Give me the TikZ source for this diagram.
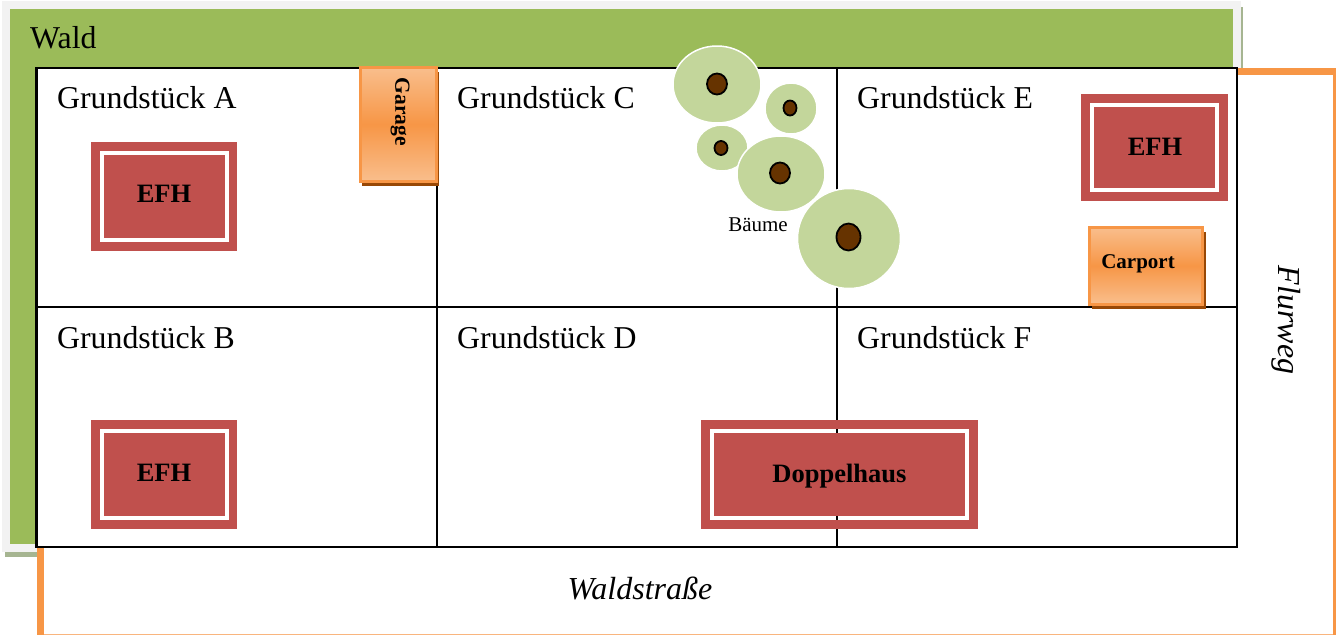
\documentclass[tikz,border=0pt]{standalone}
\usepackage{fontspec}
\usetikzlibrary{shapes.geometric}
\setmainfont{Liberation Serif}
\definecolor{waldgreen}{HTML}{9BBB59}
\definecolor{waldrim}{HTML}{F2F2F2}
\definecolor{waldshadow}{HTML}{A6B591}
\definecolor{wegorange}{HTML}{F79646}
\definecolor{houseRed}{HTML}{C0504D}
\definecolor{treeGreen}{HTML}{C3D69B}
\definecolor{trunkBrown}{HTML}{663300}
\definecolor{garLight}{HTML}{F9BE8C}
\definecolor{garShadow}{HTML}{984806}
\newcommand{\fsz}[1]{\fontsize{#1}{#1}\selectfont}
\tikzset{
  x=1pt,y=-1pt,
  label/.style={inner sep=0pt,font=\fsz{31.8},text=black,anchor=base west},
  street/.style={inner sep=0pt,font=\fsz{32}\itshape,text=black},
  tag/.style={inner sep=0pt,font=\fsz{26.5}\bfseries,text=black,anchor=base},
  parcel/.style={draw=black,line width=2.2pt},
  garbox/.style={draw=wegorange,line width=3pt,top color=garLight,bottom color=garLight,middle color=wegorange},
  housefill/.style={fill=houseRed},
  houseline/.style={draw=white,line width=4pt},
  crown/.style={fill=treeGreen,draw=white,line width=1.5pt},
  trunk/.style={fill=trunkBrown,draw=black,line width=1.8pt},
}
% name, x0,y0,x1,y1 (outer), x0,y0,x1,y1 (white frame)
\newcommand{\housebox}[9]{%
  \path[housefill] (#2,#3) rectangle (#4,#5);
  \draw[houseline] (#6,#7) rectangle (#8,#9);
}
% name, crown x,y,w,h, trunk x,y,w,h
\newcommand{\baum}[9]{%
  \node[crown,ellipse,inner sep=0pt,minimum width=#4pt,minimum height=#5pt] (#1) at (#2,#3) {};
  \node[trunk,ellipse,inner sep=0pt,minimum width=#8pt,minimum height=#9pt] (#1s) at (#6,#7) {};
}
\begin{document}
\begin{tikzpicture}
\useasboundingbox (0,0) rectangle (1336,635);
\path[fill=white] (0,0) rectangle (1336,635);
% Wald
\path[fill=waldshadow] (1241,7) rectangle (1243,68);
\path[fill=waldshadow] (5,552) rectangle (37,557);
\path[fill=waldrim] (2,1) rectangle (1241,552);
\path[fill=waldgreen] (10,9) rectangle (1233,544);
% roads
\path[fill=white] (37,547) rectangle (1336,635);
\path[fill=white] (1237,68) rectangle (1336,635);
\path[fill=wegorange] (37,546) rectangle (44,635);
\path[fill=wegorange!70!white] (44,633.5) rectangle (1336,635);
\path[fill=wegorange] (1237,68) rectangle (1336,75);
\path[fill=wegorange] (1333,68) rectangle (1336,635);
% parcels
\path[fill=white] (37,68) rectangle (1237,547);
\draw[parcel] (36.5,68) rectangle (1237,547);
\draw[parcel] (437,68) -- (437,547);
\draw[parcel] (837,68) -- (837,547);
\draw[parcel] (36.5,307) -- (1237,307);
\node[label] (lw) at (30,48) {Wald};
\node[label] (la) at (57,108) {Grundstück A};
\node[label] (lc) at (457,108) {Grundstück C};
\node[label] (le) at (857,108) {Grundstück E};
\node[label] (lb) at (57,348) {Grundstück B};
\node[label] (ld) at (457,348) {Grundstück D};
\node[label] (lf) at (857,348) {Grundstück F};
% houses
\housebox{a}{91}{142}{237}{251}{101.5}{153}{227}{240}
\node[tag] (efha) at (164,202.5) {EFH};
\housebox{b}{91}{420}{237}{529}{101.5}{431}{227}{518}
\node[tag] (efhb) at (164,481.5) {EFH};
\housebox{e}{1081}{94}{1228}{201}{1092}{105}{1217}{190}
\node[tag] (efhe) at (1155,155) {EFH};
\housebox{d}{701}{420}{978}{529}{712}{431}{967}{518}
\draw[parcel,line width=1.6pt] (837,429) -- (837,433);
\draw[parcel,line width=1.6pt] (837,516) -- (837,520);
\node[tag] (dh) at (839.5,482) {Doppelhaus};
% garage, carport
\path[fill=garShadow] (362,72) rectangle (439,186);
\draw[garbox] (360.5,67.5) rectangle (436.5,181);
\node[inner sep=0pt,font=\fsz{21.5}\bfseries,rotate=-90] (gar) at (400,112) {Garage};
\path[fill=garShadow] (1092,232) rectangle (1206,309);
\draw[garbox] (1089.5,227.5) rectangle (1202.5,304);
\node[inner sep=0pt,font=\fsz{21}\bfseries,anchor=base] (car) at (1138,268) {Carport};
% trees
\baum{t3}{722}{148}{52}{46}{721}{148}{13}{14}
\baum{t2}{791}{108.5}{52}{51}{790}{108}{13}{15}
\baum{t1}{717}{84.5}{88}{77}{717}{84}{20}{21}
\baum{t4}{781}{174}{88}{76}{780}{173}{20}{21}
\baum{t5}{849}{238.5}{103}{100}{848.5}{237}{24}{27}
\node[inner sep=0pt,font=\fsz{21},anchor=base] (bm) at (758,231) {Bäume};
% roads' names
\node[street] (ws) at (640,588) {Waldstraße};
\node[street,rotate=-90] (fw) at (1286,320) {Flurweg};
\end{tikzpicture}
\end{document}
